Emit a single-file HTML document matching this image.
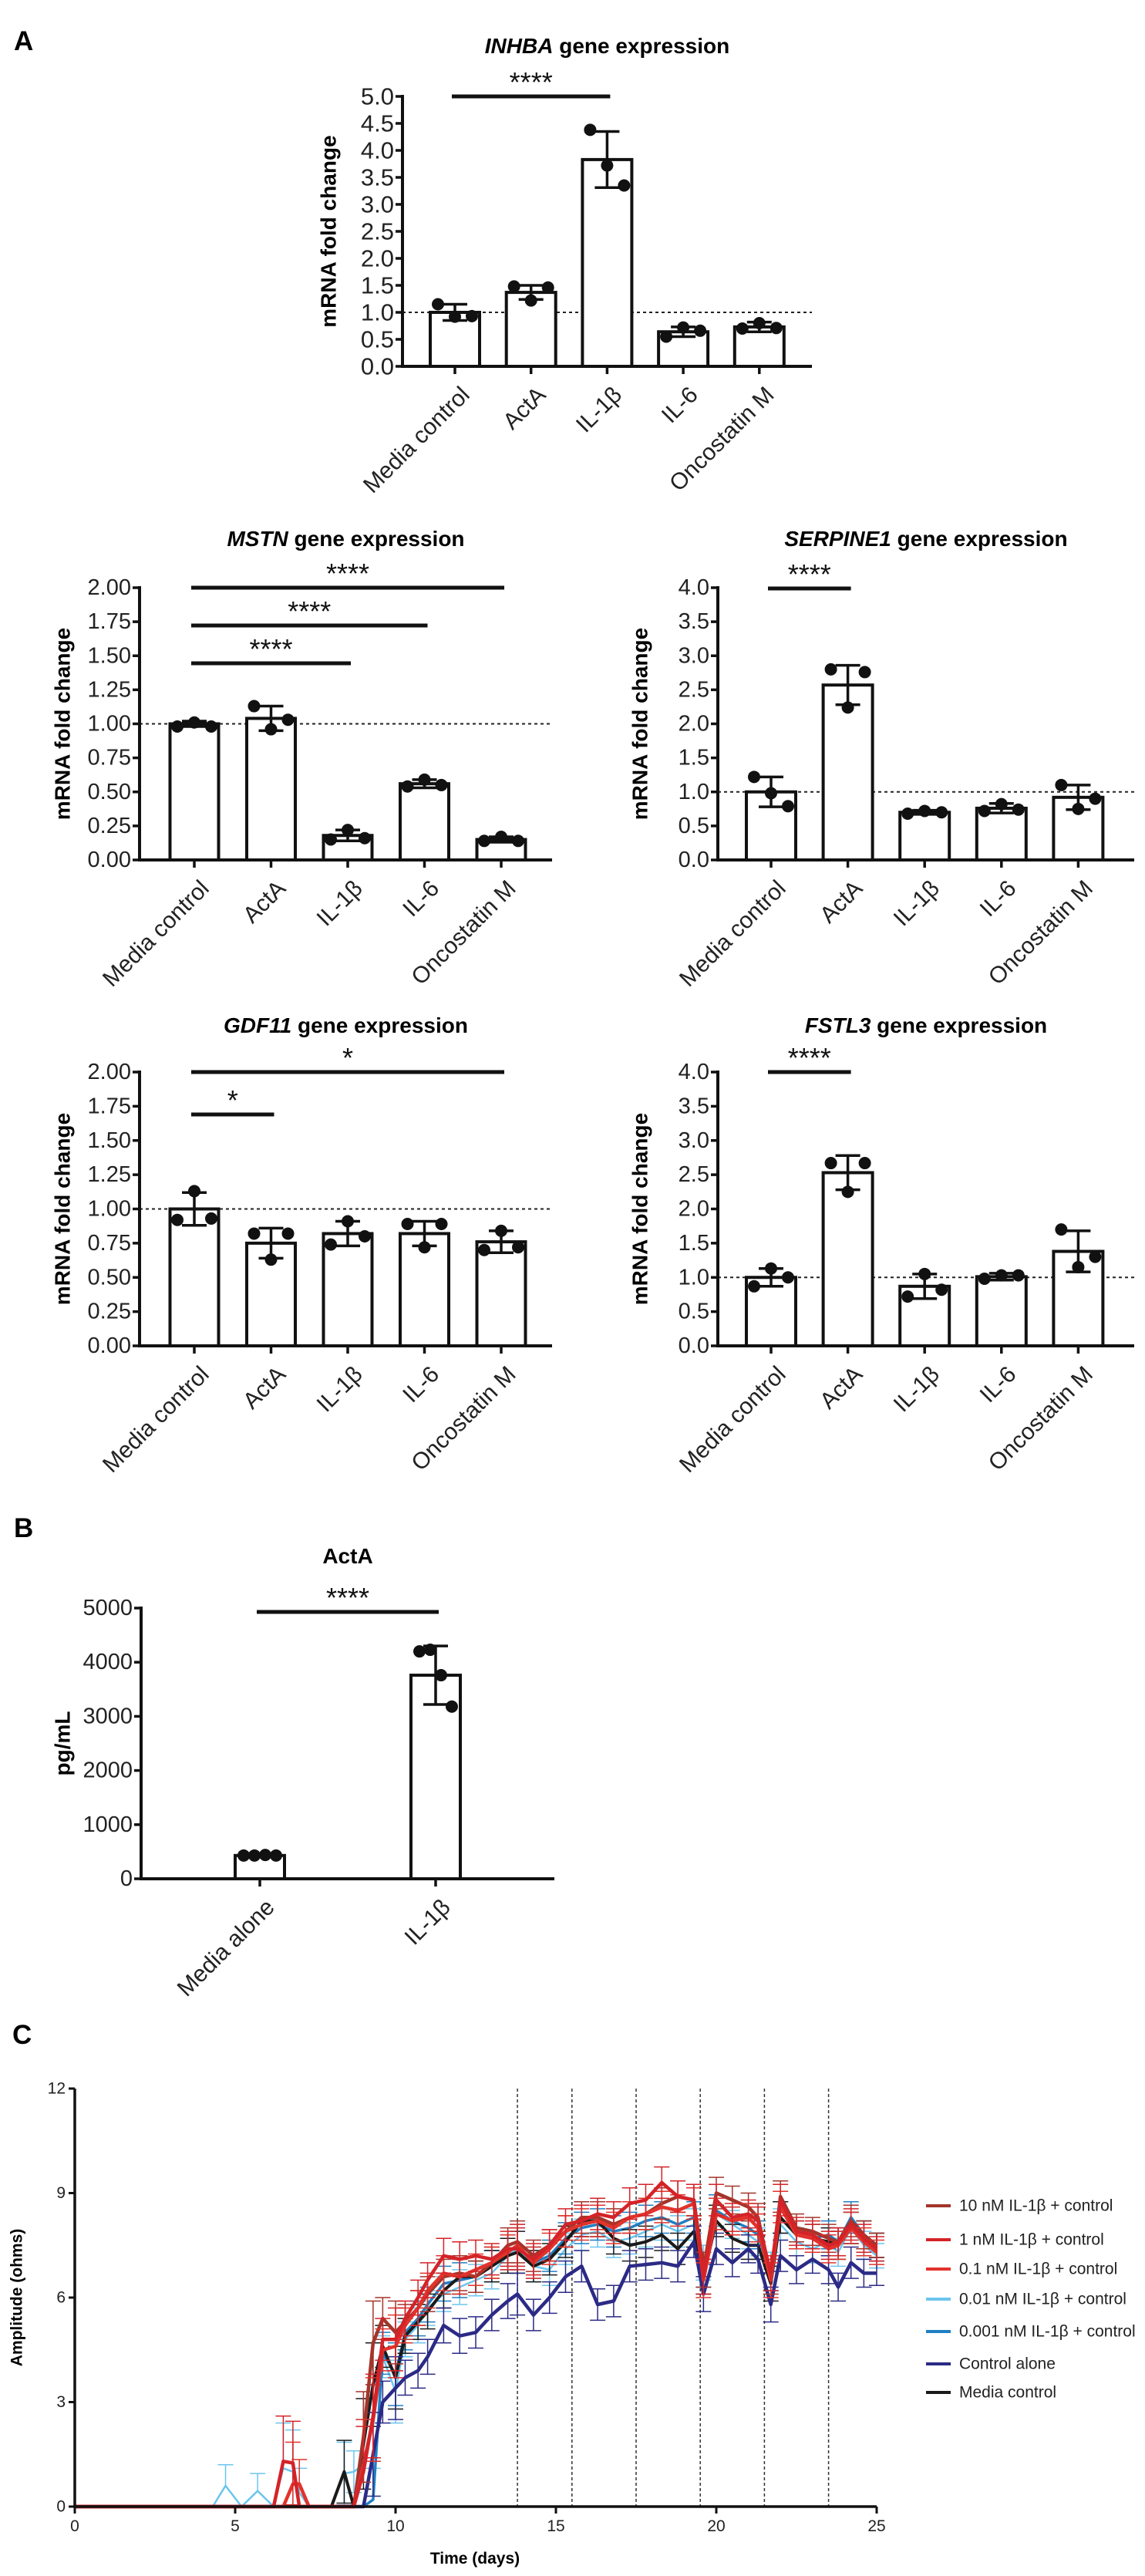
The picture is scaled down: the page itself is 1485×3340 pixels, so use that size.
<!DOCTYPE html>
<html><head><meta charset="utf-8"><title>Figure</title>
<style>
html,body{margin:0;padding:0;background:#fff;}
svg{display:block;font-family:"Liberation Sans",Arial,sans-serif;}
</style></head>
<body>
<svg id="fig" width="1485" height="3340" viewBox="0 0 1485 3340" xmlns="http://www.w3.org/2000/svg">
<text x="18" y="65" font-size="35" font-weight="bold">A</text>
<text x="18" y="1993" font-size="35" font-weight="bold">B</text>
<text x="16" y="2650" font-size="35" font-weight="bold">C</text>
</svg>
<script>
// ---------- Panel A / B data ----------
const geneCats = ["Media control","ActA","IL-1β","IL-6","Oncostatin M"];
const inhbaMeans = [1.0,1.37,3.83,0.64,0.73];
const inhbaErr = [0.15,0.13,0.52,0.09,0.09];
const inhbaPts = [[1.15,0.92,0.93],[1.48,1.22,1.46],[4.38,3.72,3.35],[0.55,0.72,0.66],[0.70,0.80,0.71]];
const mstnMeans = [1.0,1.04,0.18,0.56,0.15];
const mstnErr = [0.02,0.09,0.04,0.03,0.02];
const mstnPts = [[0.98,1.01,0.98],[1.13,0.96,1.03],[0.15,0.22,0.16],[0.54,0.59,0.55],[0.14,0.17,0.14]];
const serpMeans = [1.0,2.57,0.70,0.76,0.92];
const serpErr = [0.22,0.29,0.03,0.07,0.18];
const serpPts = [[1.22,0.98,0.79],[2.80,2.24,2.76],[0.68,0.72,0.70],[0.72,0.82,0.74],[1.10,0.75,0.90]];
const gdfMeans = [1.0,0.75,0.82,0.82,0.76];
const gdfErr = [0.12,0.11,0.09,0.09,0.08];
const gdfPts = [[0.92,1.13,0.93],[0.82,0.63,0.82],[0.74,0.91,0.80],[0.89,0.72,0.89],[0.70,0.84,0.72]];
const fstlMeans = [1.0,2.53,0.87,1.01,1.38];
const fstlErr = [0.13,0.25,0.18,0.05,0.30];
const fstlPts = [[0.87,1.13,1.0],[2.67,2.25,2.67],[0.72,1.05,0.82],[0.98,1.03,1.03],[1.70,1.15,1.30]];
const actaCats = ["Media alone","IL-1β"];
const actaMeans = [430,3760];
const actaErr = [20,540];
const actaPts = [[430,430,440,430],[4200,4230,3760,3180]];
const foldTicks = [0,0.5,1,1.5,2,2.5,3,3.5,4,4.5,5];
const mstnTicks = [0,0.25,0.5,0.75,1,1.25,1.5,1.75,2];
const serpTicks = [0,0.5,1,1.5,2,2.5,3,3.5,4];
const actaTicks = [0,1000,2000,3000,4000,5000];

// ---------- Panel C data ----------
const days = [0,4.3,4.7,5.2,5.7,6.2,6.5,6.8,7.0,7.3,7.6,8.0,8.4,8.7,9.0,9.3,9.6,10.0,10.3,10.7,11.0,11.5,12.0,12.5,13.0,13.5,13.8,14.3,14.8,15.3,15.8,16.3,16.8,17.3,17.8,18.3,18.8,19.3,19.6,20.0,20.5,21.0,21.3,21.7,22.0,22.5,23.0,23.5,23.8,24.2,24.6,25.0];
const ampErr = [0,0,0.6,0,0.5,0,1.3,1.2,0.7,0,0,0,0.9,0.6,1.3,1.2,0.6,0.9,0.5,0.5,0.5,0.5,0.5,0.45,0.45,0.5,0.6,0.45,0.45,0.45,0.45,0.45,0.45,0.45,0.45,0.45,0.45,0.45,0.5,0.45,0.4,0.4,0.4,0.5,0.45,0.4,0.4,0.4,0.4,0.45,0.4,0.35];
const nM001 = [0,0,0,0,0,0,0,0,0,0,0,0,0,0,0,0.2,4.4,3.8,5.0,5.4,5.8,6.4,6.5,6.6,6.9,7.3,7.5,7.0,7.2,7.7,8.0,8.1,7.9,8.0,8.2,8.3,8.1,8.3,6.8,8.5,8.2,8.0,7.8,6.7,8.3,7.8,7.7,7.8,7.6,8.3,7.8,7.5];
const nM01 = [0,0,0.6,0,0.45,0,1.1,1.0,0.4,0,0,0,0.95,1.0,1.2,2.3,4.3,3.3,4.8,5.2,5.7,6.1,6.3,6.5,6.7,7.2,7.4,6.9,6.8,7.4,7.8,7.9,7.6,7.7,7.9,8.1,7.9,8.1,7.0,8.4,8.1,7.8,7.6,6.8,8.1,7.6,7.4,7.6,7.3,8.0,7.5,7.2];
const mediaCtrl = [0,0,0,0,0,0,0,0,0,0,0,0,1.0,0,1.8,3.5,4.6,3.7,4.9,5.3,5.6,6.2,6.6,6.6,6.9,7.2,7.3,6.9,7.1,7.6,8.2,8.2,7.7,7.5,7.6,7.8,7.4,7.9,6.6,8.2,7.7,7.5,7.5,6.4,8.3,7.8,7.7,7.6,7.5,8.0,7.8,7.5];
const ctrlAlone = [0,0,0,0,0,0,0,0,0,0,0,0,0,0,0,1.5,3.0,3.4,3.7,3.9,4.3,5.2,4.9,5.0,5.5,5.9,6.1,5.5,6.0,6.6,6.9,5.8,5.9,6.9,6.95,7.0,6.9,7.6,6.1,7.4,7.0,7.4,7.1,5.8,7.2,6.8,7.1,6.8,6.3,7.0,6.7,6.7];
const nM01b = [0,0,0,0,0,0,0,0.65,0.65,0,0,0,0,0,1.2,2.5,4.5,4.6,5.2,5.7,6.2,6.7,6.6,6.8,7.0,7.3,7.5,7.0,7.4,7.9,8.1,8.2,8.0,8.3,8.4,8.6,8.5,8.7,6.5,8.4,8.2,8.3,8.0,6.5,8.6,7.8,7.7,7.4,7.5,8.0,7.6,7.3];
const nM1 = [0,0,0,0,0,0,1.3,1.25,0,0,0,0,0,0,1.0,2.6,4.8,4.8,5.4,6.0,6.5,7.2,7.1,7.2,7.1,7.4,7.4,7.1,7.5,8.1,8.2,8.4,8.3,8.7,8.8,9.3,8.9,8.8,6.6,8.8,8.3,8.4,8.2,6.7,8.8,7.9,7.8,7.5,7.6,8.1,7.7,7.4];
const nM10 = [0,0,0,0,0,0,0,0,0,0,0,0,0,0,2.0,4.7,5.4,5.0,5.3,5.7,6.1,6.6,6.7,6.6,7.0,7.5,7.6,7.2,7.5,7.9,8.3,8.3,8.1,8.3,8.4,8.7,8.9,8.8,6.8,9.0,8.8,8.6,8.3,6.6,8.9,8.0,7.9,7.7,7.6,8.2,7.8,7.5];
const treatmentDays = [13.8,15.5,17.5,19.5,21.5,23.5];
const ampTicks = [0,3,6,9,12];
const dayTicks = [0,5,10,15,20,25];
const legendLabels = ["10 nM IL-1β + control","1 nM IL-1β + control","0.1 nM IL-1β + control","0.01 nM IL-1β + control","0.001 nM IL-1β + control","Control alone","Media control"];

const NS="http://www.w3.org/2000/svg";
const svg=document.getElementById('fig');
function mk(tag,attrs,parent){const e=document.createElementNS(NS,tag);for(const k in attrs)e.setAttribute(k,attrs[k]);(parent||svg).appendChild(e);return e;}
function txt(s,attrs,parent){const e=mk('text',attrs,parent);e.textContent=s;return e;}

function barChart(o){
  const g=mk('g',{});
  
  
  const ys=v=>o.y0-(v/o.max)*(o.y0-o.yTop);
  const xs=i=>o.c0+i*o.step;
  // title
  const t=txt('',{x:(o.axisX+o.axisEnd)/2,y:o.titleY+10,'font-size':28,'font-weight':'bold','text-anchor':'middle'},g);
  
  
  if(o.gene){const s1=mk('tspan',{'font-style':'italic'},t);s1.textContent=o.gene;const s2=mk('tspan',{},t);s2.textContent=' '+o.titleRest;}else{t.textContent=o.titleRest;}
  // y axis title
  const yt=txt(o.ylabel,{x:o.ylx,y:(o.y0+o.yTop)/2,'font-size':28,'font-weight':'bold','text-anchor':'middle','dominant-baseline':'central',transform:`rotate(-90 ${o.ylx} ${(o.y0+o.yTop)/2})`},g);
  
  
  // dashed reference
  if(o.ref!==undefined){const d=mk('line',{x1:o.axisX,x2:o.axisEnd,y1:ys(o.ref),y2:ys(o.ref),stroke:'#222','stroke-width':2,'stroke-dasharray':'4 4'},g);
    
    }
  // bars
  o.means.forEach((m,i)=>{
    const b=mk('rect',{x:xs(i)-o.bw/2,y:ys(m),width:o.bw,height:o.y0-ys(m),fill:'#fff',stroke:'#111','stroke-width':4},g);
    
    
  });
  // error bars + dots
  o.means.forEach((m,i)=>{
    const cx=xs(i),e=o.err[i];
    const eg=mk('g',{stroke:'#111','stroke-width':3.5},g);
    
    
    mk('line',{x1:cx,x2:cx,y1:ys(m-e),y2:ys(m+e)},eg);
    mk('line',{x1:cx-16,x2:cx+16,y1:ys(m+e),y2:ys(m+e)},eg);
    mk('line',{x1:cx-16,x2:cx+16,y1:ys(m-e),y2:ys(m-e)},eg);
    const pts=o.pts[i];const n=pts.length;
    pts.forEach((p,j)=>{
      const off=(j-(n-1)/2)*(n>3?14:22);
      const c=mk('circle',{cx:cx+off,cy:ys(p),r:o.r||8,fill:'#111'},g);
      
      
    });
  });
  // axes
  const ax=mk('path',{d:`M${o.axisX},${o.yTop-2} V${o.y0} H${o.axisEnd}`,fill:'none',stroke:'#111','stroke-width':4},g);
  
  
  o.ticks.forEach(v=>{
    mk('line',{x1:o.axisX-9,x2:o.axisX,y1:ys(v),y2:ys(v),stroke:'#111','stroke-width':3.5},g);
    const tl=txt(o.fmt(v),{x:o.axisX-11,y:ys(v),'font-size':o.tfs||31,'text-anchor':'end','dominant-baseline':'central',fill:'#222'},g);
    
    
  });
  o.cats.forEach((c,i)=>{
    const cx=xs(i);
    mk('line',{x1:cx,x2:cx,y1:o.y0,y2:o.y0+10,stroke:'#111','stroke-width':3.5},g);
    const lx=cx+6,ly=o.y0+24;
    const xl=txt(c,{x:lx,y:ly,'font-size':30,'text-anchor':'end','dominant-baseline':'hanging',fill:'#222',transform:`rotate(-45 ${lx} ${ly})`},g);
    
    
  });
  // significance
  (o.sig||[]).forEach(s=>{
    const x1=xs(0)-4,x2=xs(s.to)+4;
    const sl=mk('line',{x1:x1,x2:x2,y1:s.y,y2:s.y,stroke:'#111','stroke-width':5},g);
    
    
    const st=txt(s.label,{x:(x1+x2)/2,y:s.y-6,'font-size':36,'text-anchor':'middle',fill:'#111'},g);
    
    
  });
}
const f1=v=>v.toFixed(1), f2=v=>v.toFixed(2), f0=v=>String(v);
barChart({name:'inhba-chart',gene:'INHBA',titleRest:'gene expression',titleY:59,ylabel:'mRNA fold change',ylx:426,axisX:522,axisEnd:1053,y0:475,yTop:125,max:5,ticks:foldTicks,fmt:f1,cats:geneCats,means:inhbaMeans,err:inhbaErr,pts:inhbaPts,c0:590,step:98.7,bw:64,ref:1,sig:[{to:2,y:125,label:'****'}]});
barChart({name:'mstn-chart',gene:'MSTN',titleRest:'gene expression',titleY:698,ylabel:'mRNA fold change',ylx:81,axisX:181,axisEnd:716,y0:1115,yTop:762,max:2,ticks:mstnTicks,fmt:f2,cats:geneCats,means:mstnMeans,err:mstnErr,pts:mstnPts,c0:252,step:99.5,bw:63,ref:1,tfs:29,sig:[{to:4,y:762,label:'****'},{to:3,y:811,label:'****'},{to:2,y:860,label:'****'}]});
barChart({name:'serpine1-chart',gene:'SERPINE1',titleRest:'gene expression',titleY:698,ylabel:'mRNA fold change',ylx:830,axisX:931,axisEnd:1471,y0:1115,yTop:762,max:4,ticks:serpTicks,fmt:f1,cats:geneCats,means:serpMeans,err:serpErr,pts:serpPts,c0:1000,step:99.6,bw:64,ref:1,tfs:29,sig:[{to:1,y:763,label:'****'}]});
barChart({name:'gdf11-chart',gene:'GDF11',titleRest:'gene expression',titleY:1329,ylabel:'mRNA fold change',ylx:81,axisX:181,axisEnd:716,y0:1745,yTop:1390,max:2,ticks:mstnTicks,fmt:f2,cats:geneCats,means:gdfMeans,err:gdfErr,pts:gdfPts,c0:252,step:99.5,bw:63,ref:1,tfs:29,sig:[{to:4,y:1390,label:'*'},{to:1,y:1445,label:'*'}]});
barChart({name:'fstl3-chart',gene:'FSTL3',titleRest:'gene expression',titleY:1329,ylabel:'mRNA fold change',ylx:830,axisX:931,axisEnd:1471,y0:1745,yTop:1390,max:4,ticks:serpTicks,fmt:f1,cats:geneCats,means:fstlMeans,err:fstlErr,pts:fstlPts,c0:1000,step:99.6,bw:64,ref:1,tfs:29,sig:[{to:1,y:1390,label:'****'}]});
barChart({name:'acta-chart',gene:'',titleRest:'ActA',titleY:2017,ylabel:'pg/mL',ylx:81,axisX:183,axisEnd:719,y0:2436,yTop:2085,max:5000,ticks:actaTicks,fmt:f0,cats:actaCats,means:actaMeans,err:actaErr,pts:actaPts,c0:337,step:228,bw:64,tfs:29,sig:[{to:1,y:2090,label:'****'}]});

// ---------- Panel C ----------
(function(){
  const X0=97,X1=1137,Y0=3250,Y1=2708;
  const xs=d=>X0+d/25*(X1-X0), ys=v=>Y0-v/12*(Y0-Y1);
  const g=mk('g',{});
  
  
  treatmentDays.forEach(d=>{
    const l=mk('line',{x1:xs(d),x2:xs(d),y1:Y1,y2:Y0,stroke:'#333','stroke-width':1.5,'stroke-dasharray':'4 3'},g);
    
    
  });
  const series=[
    {name:'series-0-01nm',vals:nM01,color:'#6cc5ee',w:2.5},
    {name:'series-0-001nm',vals:nM001,color:'#1f7fc4',w:3.5},
    {name:'series-media-control',vals:mediaCtrl,color:'#1a1a1a',w:4},
    {name:'series-control-alone',vals:ctrlAlone,color:'#2b2a86',w:4.5},
    {name:'series-10nm',vals:nM10,color:'#a3352b',w:4.5},
    {name:'series-0-1nm',vals:nM01b,color:'#e2332c',w:4.5},
    {name:'series-1nm',vals:nM1,color:'#d42328',w:4.5}
  ];
  series.forEach(s=>{
    const sg=mk('g',{},g);
    
    
    s.vals.forEach((v,i)=>{
      const e=ampErr[i]; if(v<=0||e<=0) return;
      const x=xs(days[i]);
      mk('line',{x1:x,x2:x,y1:ys(v),y2:ys(v+e),stroke:s.color,'stroke-width':1.5},sg);
      mk('line',{x1:x-10,x2:x+10,y1:ys(v+e),y2:ys(v+e),stroke:s.color,'stroke-width':1.5},sg);
      if(v-e>0){mk('line',{x1:x,x2:x,y1:ys(v),y2:ys(v-e),stroke:s.color,'stroke-width':1.5},sg);
      mk('line',{x1:x-10,x2:x+10,y1:ys(v-e),y2:ys(v-e),stroke:s.color,'stroke-width':1.5},sg);}
    });
    const d=s.vals.map((v,i)=>(i?'L':'M')+xs(days[i]).toFixed(1)+','+ys(v).toFixed(1)).join(' ');
    const p=mk('path',{d:d,fill:'none',stroke:s.color,'stroke-width':s.w,'stroke-linejoin':'round'},sg);
    
    
  });
  const ax=mk('path',{d:`M${X0},${Y1} V${Y0} H${X1}`,fill:'none',stroke:'#111','stroke-width':3.5},g);
  
  
  ampTicks.forEach(v=>{
    mk('line',{x1:X0-8,x2:X0,y1:ys(v),y2:ys(v),stroke:'#111','stroke-width':3},g);
    const t=txt(String(v),{x:X0-12,y:ys(v),'font-size':21,'text-anchor':'end','dominant-baseline':'central',fill:'#222'},g);
    
    
  });
  dayTicks.forEach(v=>{
    mk('line',{x1:xs(v),x2:xs(v),y1:Y0,y2:Y0+9,stroke:'#111','stroke-width':3},g);
    const t=txt(String(v),{x:xs(v),y:Y0+32,'font-size':21,'text-anchor':'middle',fill:'#222'},g);
    
    
  });
  const xt=txt('Time (days)',{x:616,y:3324,'font-size':21,'font-weight':'bold','text-anchor':'middle'},g);
  
  
  const yt=txt('Amplitude (ohms)',{x:22,y:2979,'font-size':21,'font-weight':'bold','text-anchor':'middle','dominant-baseline':'central',transform:'rotate(-90 22 2979)'},g);
  
  
  const legColors=['#a3352b','#d42328','#e2332c','#6cc5ee','#1f7fc4','#2b2a86','#1a1a1a'];
  const legY=[2860,2904,2942,2981,3023,3065,3102];
  legendLabels.forEach((l,i)=>{
    const lg=mk('g',{},g);
    
    
    mk('line',{x1:1201,x2:1233,y1:legY[i],y2:legY[i],stroke:legColors[i],'stroke-width':4},lg);
    txt(l,{x:1244,y:legY[i],'font-size':21,'dominant-baseline':'central',fill:'#222'},lg);
  });
})();
</script>
</body></html>
